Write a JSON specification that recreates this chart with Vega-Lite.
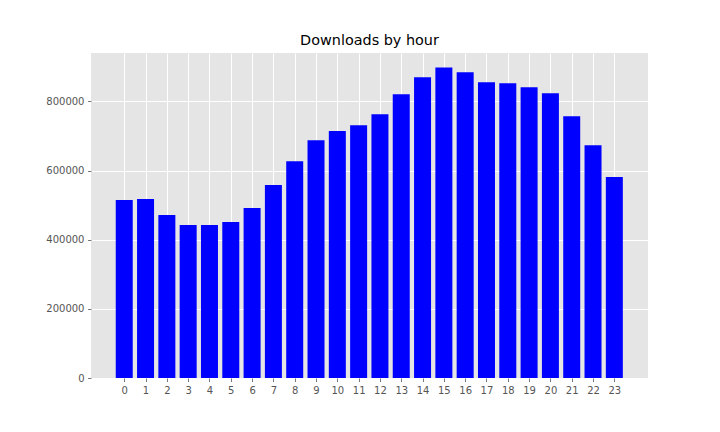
{
  "$schema": "https://vega.github.io/schema/vega-lite/v6.json",
  "width": 557,
  "height": 325,
  "autosize": "none",
  "padding": {"left": 91, "top": 53, "right": 72, "bottom": 54},
  "background": "white",
  "title": {
    "text": "Downloads by hour",
    "font": "DejaVu Sans",
    "fontSize": 14.4,
    "fontWeight": "normal",
    "color": "black",
    "offset": 5
  },
  "data": {
    "values": [
      {"hour": 0, "downloads": 514500},
      {"hour": 1, "downloads": 517500},
      {"hour": 2, "downloads": 471300},
      {"hour": 3, "downloads": 442400},
      {"hour": 4, "downloads": 442400},
      {"hour": 5, "downloads": 451100},
      {"hour": 6, "downloads": 491500},
      {"hour": 7, "downloads": 557900},
      {"hour": 8, "downloads": 627100},
      {"hour": 9, "downloads": 687700},
      {"hour": 10, "downloads": 714600},
      {"hour": 11, "downloads": 731000},
      {"hour": 12, "downloads": 762800},
      {"hour": 13, "downloads": 820500},
      {"hour": 14, "downloads": 869600},
      {"hour": 15, "downloads": 898400},
      {"hour": 16, "downloads": 884000},
      {"hour": 17, "downloads": 855100},
      {"hour": 18, "downloads": 852200},
      {"hour": 19, "downloads": 840700},
      {"hour": 20, "downloads": 823400},
      {"hour": 21, "downloads": 757000},
      {"hour": 22, "downloads": 673300},
      {"hour": 23, "downloads": 581000}
    ]
  },
  "mark": {"type": "bar", "color": "#0000ff", "size": 17},
  "encoding": {
    "x": {
      "field": "hour",
      "type": "quantitative",
      "title": null,
      "scale": {"domain": [-1.56, 24.58], "nice": false, "zero": false, "padding": 0},
      "axis": {
        "values": [0, 1, 2, 3, 4, 5, 6, 7, 8, 9, 10, 11, 12, 13, 14, 15, 16, 17, 18, 19, 20, 21, 22, 23],
        "format": "d",
        "labelAngle": 0,
        "labelFlush": false,
        "labelOverlap": false
      }
    },
    "y": {
      "field": "downloads",
      "type": "quantitative",
      "title": null,
      "scale": {"domain": [0, 940000], "nice": false, "padding": 0},
      "axis": {"values": [0, 200000, 400000, 600000, 800000], "format": "d"}
    }
  },
  "config": {
    "view": {"fill": "#e5e5e5", "stroke": null},
    "axis": {
      "domain": false,
      "grid": true,
      "gridColor": "white",
      "gridWidth": 1,
      "gridOpacity": 1,
      "tickColor": "#555555",
      "tickSize": 3.5,
      "tickWidth": 0.8,
      "labelColor": "#555555",
      "labelFont": "DejaVu Sans",
      "labelFontSize": 10,
      "labelPadding": 3.5
    }
  }
}
